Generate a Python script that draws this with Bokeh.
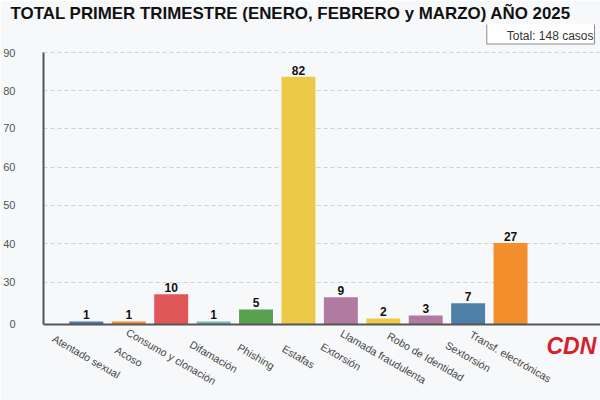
from bokeh.plotting import figure
from bokeh.models import (ColumnDataSource, Range1d, FixedTicker, LabelSet, Label, Span)
from bokeh.core.properties import value
from bokeh.embed import file_html
from bokeh.resources import INLINE

# ---- data ----
categories = ["Atentado sexual", "Acoso", "Consumo y clonación", "Difamación",
              "Phishing", "Estafas", "Extorsión", "Llamada fraudulenta",
              "Robo de Identidad", "Sextorsión", "Transf. electrónicas"]
values = [1, 1, 10, 1, 5, 82, 9, 2, 3, 7, 27]
colors = ["#4e79a7", "#f28e2b", "#e15759", "#76b7b2", "#59a14f", "#edc948",
          "#b07aa1", "#edc948", "#b07aa1", "#4e7fa8", "#f28e2b"]
# y tick labels as printed on the chart, and where the chart draws them
ytick_labels = ["0", "30", "40", "50", "60", "70", "80", "90"]
ytick_pos = [0, 13.9, 26.8, 39.4, 52.0, 64.9, 77.4, 90]
total_text = "Total: 148 casos"
title_text = "TOTAL PRIMER TRIMESTRE (ENERO, FEBRERO y MARZO) AÑO 2025"

FONT = "Liberation Sans"
BG = "#f7f8fa"

idx = list(range(len(categories)))
src = ColumnDataSource(dict(x=idx, top=values, color=colors, cat=categories,
                            lab=[str(v) for v in values]))

p = figure(width=600, height=400, output_backend="svg", toolbar_location=None,
           x_range=Range1d(-1.01, 12.12), y_range=Range1d(-25.15, 99.27),
           min_border_left=42, min_border_right=0, min_border_top=24,
           min_border_bottom=0)
p.background_fill_color = BG
p.border_fill_color = BG
p.outline_line_color = None

p.title.text = title_text
p.title.text_font = FONT
p.title.text_font_size = "16.9px"
p.title.text_font_style = "bold"
p.title.text_color = "#111111"
p.title.align = "left"
p.title.vertical_align = "top"
p.title.offset = -33
p.title.standoff = 0

p.vbar(x="x", top="top", width=0.8, bottom=0, color="color", source=src,
       line_color=None)

# axes
p.xaxis.visible = False
p.xgrid.grid_line_color = None
p.add_layout(Span(location=0, dimension="width", line_color="#555555",
                  line_width=2))

p.yaxis.ticker = FixedTicker(ticks=ytick_pos)
p.yaxis.major_label_overrides = {t: l for t, l in zip(ytick_pos, ytick_labels)}
p.yaxis.bounds = (0, 90)
p.yaxis.axis_line_color = "#555555"
p.yaxis.axis_line_width = 2
p.yaxis.major_tick_line_color = None
p.yaxis.minor_tick_line_color = None
p.yaxis.major_tick_out = 0
p.yaxis.major_tick_in = 0
p.yaxis.minor_tick_out = 0
p.yaxis.minor_tick_in = 0
p.yaxis.major_label_text_font = FONT
p.yaxis.major_label_text_font_size = "11px"
p.yaxis.major_label_text_color = "#555555"
p.yaxis.major_label_standoff = 28
p.ygrid.grid_line_color = "#cfd2d6"
p.ygrid.grid_line_dash = "4 3"
p.ygrid.grid_line_width = 1

# value labels
p.add_layout(LabelSet(x="x", y="top", text="lab", source=src, y_offset=2,
                      text_align="center", text_baseline="bottom",
                      text_font=value(FONT), text_font_size="12px",
                      text_font_style="bold", text_color="#111111"))
# category labels (rotated, centred under each bar)
p.add_layout(LabelSet(x="x", y=0, text="cat", source=src, y_offset=-32,
                      angle=-30, angle_units="deg",
                      text_align="center", text_baseline="middle",
                      text_font=value(FONT), text_font_size="10.6px",
                      text_color="#444444"))

# total box
p.add_layout(Label(x=551, y=368, x_units="screen", y_units="screen",
                   text=total_text, text_align="right", text_baseline="middle",
                   text_font=FONT, text_font_size="12px", text_color="#333333",
                   background_fill_color="white",
                   border_line_color="#8a8a8a", border_line_width=1,
                   padding=(20, 1, 8, 1)))

# watermark logo
p.add_layout(Label(x=503, y=55, x_units="screen", y_units="screen",
                   text="CDN", text_align="left", text_baseline="middle",
                   text_font=FONT, text_font_size="23px",
                   text_font_style="bold italic", text_color="#d7202e"))

open("out.html", "w").write(file_html(p, INLINE))
